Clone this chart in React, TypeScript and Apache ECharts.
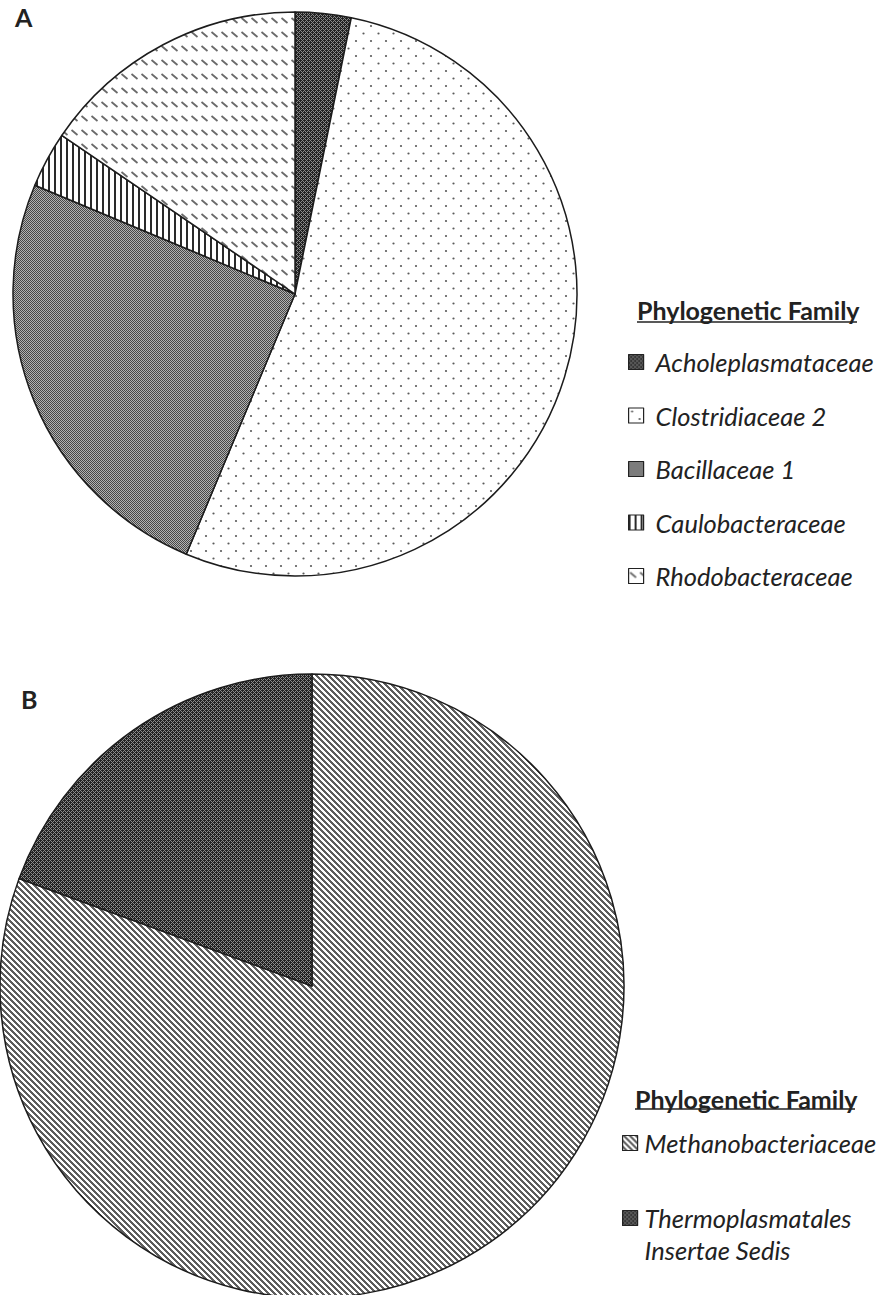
import React, { useEffect, useRef } from 'react';
import * as echarts from 'echarts';

// ---- data ----
const panelLabels = ['A', 'B'];
const legendTitle = 'Phylogenetic Family';
const familiesA = ['Acholeplasmataceae', 'Clostridiaceae 2', 'Bacillaceae 1', 'Caulobacteraceae', 'Rhodobacteraceae'];
const valuesA = [3.2, 53.1, 25.0, 3.2, 15.5];
const familiesB = ['Methanobacteriaceae', 'Thermoplasmatales Insertae Sedis'];
const valuesB = [80.6, 19.4];

// pattern styles for each slice
const patternKeysA = ['crossDark', 'dots', 'checker', 'vlines', 'dashes'];
const patternKeysB = ['stripes', 'crossDark'];

function tile(w: number, h: number, draw: (ctx: CanvasRenderingContext2D) => void) {
  const c = document.createElement('canvas');
  c.width = w;
  c.height = h;
  const ctx = c.getContext('2d') as CanvasRenderingContext2D;
  ctx.fillStyle = '#ffffff';
  ctx.fillRect(0, 0, w, h);
  draw(ctx);
  return { image: c.toDataURL(), repeat: 'repeat', imageWidth: w, imageHeight: h };
}

function makePatterns(): Record<string, any> {
  return {
    crossDark: tile(4, 4, (ctx) => {
      ctx.fillStyle = '#222222';
      ctx.fillRect(0, 0, 4, 4);
      ctx.fillStyle = '#8a8a8a';
      for (let x = 0; x < 4; x++) {
        for (let y = 0; y < 4; y++) {
          if ((x + y) % 4 === 2 || (x - y + 4) % 4 === 2) ctx.fillRect(x, y, 1, 1);
        }
      }
    }),
    dots: tile(15, 15, (ctx) => {
      ctx.fillStyle = '#5a5a5a';
      ctx.beginPath();
      ctx.arc(3.5, 3.5, 1.1, 0, Math.PI * 2);
      ctx.fill();
      ctx.beginPath();
      ctx.arc(11, 11, 1.1, 0, Math.PI * 2);
      ctx.fill();
    }),
    checker: tile(2, 2, (ctx) => {
      ctx.fillStyle = '#b2b2b2';
      ctx.fillRect(0, 0, 2, 2);
      ctx.fillStyle = '#474747';
      ctx.fillRect(0, 0, 1, 1);
      ctx.fillRect(1, 1, 1, 1);
    }),
    vlines: tile(6, 2, (ctx) => {
      ctx.fillStyle = '#2a2a2a';
      ctx.fillRect(0, 0, 2, 2);
    }),
    dashes: tile(10, 14, (ctx) => {
      ctx.strokeStyle = '#6a6a6a';
      ctx.lineWidth = 1.8;
      ctx.beginPath();
      ctx.moveTo(1.5, 4);
      ctx.lineTo(7.5, 9);
      ctx.stroke();
    }),
    stripes: tile(6, 6, (ctx) => {
      ctx.fillStyle = '#5e5e5e';
      for (let x = 0; x < 6; x++) {
        for (let y = 0; y < 6; y++) {
          if ((x - y + 6) % 6 < 3) ctx.fillRect(x, y, 1, 1);
        }
      }
    }),
  };
}

const FONT = 'Lato';

export default function App() {
  const ref = useRef<HTMLDivElement>(null);

  useEffect(() => {
    if (!ref.current) return;
    const chart = echarts.init(ref.current, undefined, { renderer: 'svg' });
    const pats = makePatterns();
    const sliceBorder = { borderColor: '#1c1c1c', borderWidth: 1.5 };
    const legendText = {
      fontFamily: FONT,
      fontStyle: 'italic',
      fontSize: 25.5,
      lineHeight: 24,
      color: '#222',
    };
    const titleText = {
      fontFamily: FONT,
      fontWeight: 'bold',
      fontSize: 25,
      lineHeight: 26,
      color: '#222',
    };
    const panelText = {
      fontFamily: FONT,
      fontWeight: 'bold',
      fontSize: 25,
      lineHeight: 24,
      color: '#222',
    };

    const option: any = {
      animation: false,
      backgroundColor: '#ffffff',
      title: [
        { text: panelLabels[0], left: 15, top: 5, padding: 0, textStyle: panelText },
        { text: panelLabels[1], left: 21, top: 687, padding: 0, textStyle: panelText },
        { text: legendTitle, left: 637, top: 297, padding: 0, textStyle: titleText },
        { text: legendTitle, left: 635, top: 1086, padding: 0, textStyle: titleText },
      ],
      legend: [
        {
          data: familiesA,
          orient: 'vertical',
          left: 628,
          top: 349,
          padding: 0,
          itemWidth: 15,
          itemHeight: 15,
          itemGap: 27.5,
          icon: 'rect',
          selectedMode: false,
          textStyle: { ...legendText, padding: [0, 0, 0, 7] },
          itemStyle: { borderColor: '#222', borderWidth: 1.2 },
        },
        {
          data: [familiesB[0]],
          orient: 'vertical',
          left: 622,
          top: 1130,
          padding: 0,
          itemWidth: 15,
          itemHeight: 15,
          icon: 'rect',
          selectedMode: false,
          textStyle: { ...legendText, padding: [0, 0, 0, 2] },
          itemStyle: { borderColor: '#222', borderWidth: 1.2 },
        },
        {
          data: [familiesB[1]],
          orient: 'vertical',
          left: 622,
          top: 1170,
          padding: 0,
          itemWidth: 15,
          itemHeight: 15,
          icon: 'rect',
          selectedMode: false,
          formatter: (name: string) => {
            const parts = name.split(' ');
            return '\n' + parts[0] + '\n' + parts.slice(1).join(' ');
          },
          textStyle: { ...legendText, lineHeight: 32, padding: [0, 0, 0, 2] },
          itemStyle: { borderColor: '#222', borderWidth: 1.2 },
        },
      ],
      graphic: [
        { type: 'line', shape: { x1: 637, y1: 322, x2: 857, y2: 322 }, style: { stroke: '#222', lineWidth: 1.5 } },
        { type: 'line', shape: { x1: 635, y1: 1109, x2: 855, y2: 1109 }, style: { stroke: '#222', lineWidth: 1.5 } },
      ],
      series: [
        {
          type: 'pie',
          center: [295, 294],
          radius: 282,
          startAngle: 90,
          clockwise: true,
          silent: true,
          avoidLabelOverlap: false,
          label: { show: false },
          labelLine: { show: false },
          emphasis: { disabled: true },
          itemStyle: sliceBorder,
          data: familiesA.map((name, i) => ({
            name,
            value: valuesA[i],
            itemStyle: { color: pats[patternKeysA[i]] },
          })),
        },
        {
          type: 'pie',
          center: [312, 986],
          radius: 312,
          startAngle: 90,
          clockwise: true,
          silent: true,
          avoidLabelOverlap: false,
          label: { show: false },
          labelLine: { show: false },
          emphasis: { disabled: true },
          itemStyle: sliceBorder,
          data: familiesB.map((name, i) => ({
            name,
            value: valuesB[i],
            itemStyle: { color: pats[patternKeysB[i]] },
          })),
        },
      ],
    };
    chart.setOption(option);
    return () => chart.dispose();
  }, []);

  return (
    <div
      ref={ref}
      style={{ position: 'absolute', left: 0, top: 0, width: 890, height: 1295, background: '#fff' }}
    />
  );
}
